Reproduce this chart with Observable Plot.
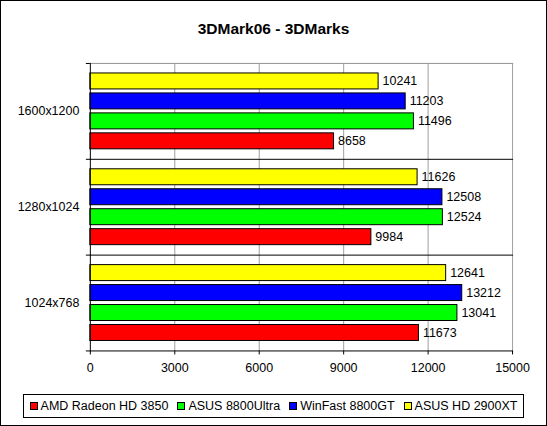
<!DOCTYPE html>
<html>
<head>
<meta charset="utf-8">
<script src="https://cdn.jsdelivr.net/npm/d3@7"></script>
<script src="https://cdn.jsdelivr.net/npm/@observablehq/plot@0.6"></script>
<style>
html, body { margin: 0; padding: 0; background: #fff; }
#wrap { position: relative; width: 547px; height: 426px; box-sizing: border-box; border: 1px solid #000; font-family: "Liberation Sans", Arial, sans-serif; overflow: hidden; background: #fff; }
#title { position: absolute; left: 0; width: 545px; top: 20px; text-align: center; font-weight: bold; font-size: 15.5px; line-height: 16px; }
#chart { position: absolute; left: -1px; top: 49px; }
#legend { position: absolute; left: 22px; top: 393px; width: 501px; height: 24px; box-sizing: border-box; border: 1px solid #000; display: flex; align-items: center; justify-content: center; font-size: 12.5px; white-space: nowrap; }
.item { display: flex; align-items: center; margin: 0 4.5px; }
.sw { width: 8px; height: 8px; box-sizing: border-box; border: 1px solid #000; margin-right: 3px; }
</style>
</head>
<body>
<div id="wrap">
  <div id="title">3DMark06 - 3DMarks</div>
  <div id="chart"></div>
  <div id="legend"></div>
</div>
<script>
const groups = ["1600x1200", "1280x1024", "1024x768"];
const series = ["AMD Radeon HD 3850", "ASUS 8800Ultra", "WinFast 8800GT", "ASUS HD 2900XT"];
const colors = ["#ff0000", "#00ff00", "#0000ff", "#ffff00"];
// values per series, in the order of groups
const amdHD3850 = [8658, 9984, 11673];
const asus8800Ultra = [11496, 12524, 13041];
const winfast8800GT = [11203, 12508, 13212];
const asusHD2900XT = [10241, 11626, 12641];
const xTicks = [0, 3000, 6000, 9000, 12000, 15000];

const seriesValues = [amdHD3850, asus8800Ultra, winfast8800GT, asusHD2900XT];
const data = [];
groups.forEach((g, i) => series.forEach((s, j) => data.push({group: g, series: s, value: seriesValues[j][i]})));

const chart = Plot.plot({
  width: 547,
  height: 340,
  marginTop: 12,
  marginBottom: 38,
  marginLeft: 90,
  marginRight: 34,
  style: {fontFamily: '"Liberation Sans", Arial, sans-serif', fontSize: "12.5px", color: "black", background: "white"},
  facet: {data, y: "group", marginLeft: 90},
  fy: {domain: groups, paddingInner: 0, paddingOuter: 0, label: null, tickSize: 0, tickPadding: 11, axis: "left"},
  y: {domain: series.slice().reverse(), axis: null, paddingInner: 0.19, paddingOuter: 0.4},
  x: {domain: [0, 15000], ticks: xTicks, tickFormat: d3.format("d"), tickSize: 4, tickPadding: 8, label: null},
  color: {domain: series, range: colors},
  marks: [
    Plot.ruleX(xTicks.slice(1), {stroke: "#a0a0a0", strokeOpacity: 1}),
    Plot.frame({anchor: "top", stroke: "black", strokeOpacity: 1, insetLeft: -4, facetAnchor: "top"}),
    Plot.frame({anchor: "top", stroke: "#a0a0a0", strokeOpacity: 1, facetAnchor: "top"}),
    Plot.barX(data, {x: "value", y: "series", fill: "series", stroke: "black", strokeWidth: 1}),
    Plot.text(data, {x: "value", y: "series", text: d => String(d.value), textAnchor: "start", dx: 4, fill: "black"}),
    Plot.frame({anchor: "bottom", stroke: "black", strokeOpacity: 1, insetLeft: -4}),
    Plot.frame({anchor: "left", stroke: "black", strokeOpacity: 1})
  ]
});
document.getElementById("chart").appendChild(chart);

const legend = d3.select("#legend");
series.forEach((s, i) => {
  const it = legend.append("div").attr("class", "item");
  it.append("div").attr("class", "sw").style("background", colors[i]);
  it.append("span").text(s);
});
</script>
</body>
</html>
